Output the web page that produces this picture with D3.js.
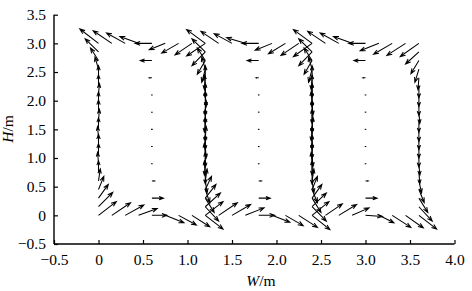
<!DOCTYPE html>
<html><head><meta charset="utf-8">
<script src="https://cdn.jsdelivr.net/npm/d3@7/dist/d3.min.js"></script>
<style>
html,body{margin:0;padding:0;background:#fff;}
svg{display:block;}
svg text{font-family:"Liberation Serif","Times New Roman",Times,serif !important;fill:#000;}
</style></head>
<body>
<svg id="c" width="472" height="291"></svg>
<script>
// ---- data: vectors [x, y, u, v] (m) ----
const xTicks = [-0.5, 0, 0.5, 1.0, 1.5, 2.0, 2.5, 3.0, 3.5, 4.0];
const xTickLabels = ["\u22120.5","0","0.5","1.0","1.5","2.0","2.5","3.0","3.5","4.0"];
const yTicks = [-0.5, 0, 0.5, 1.0, 1.5, 2.0, 2.5, 3.0, 3.5];
const yTickLabels = ["\u22120.5","0","0.5","1.0","1.5","2.0","2.5","3.0","3.5"];
const xLabel = ["W", "/m"];
const yLabel = ["H", "/m"];

const cell1Vectors = [
  // left column (upward)
  [0,0.00,0.20,0.24],[0,0.15,0.16,0.25],[0,0.30,0.11,0.24],[0,0.45,0.06,0.23],
  [0,0.60,0.02,0.21],[0,0.75,0.00,0.20],[0,0.90,-0.01,0.20],[0,1.05,0.00,0.20],
  [0,1.20,0.00,0.21],[0,1.35,-0.01,0.20],[0,1.50,0.00,0.20],[0,1.65,0.01,0.20],
  [0,1.80,0.00,0.21],[0,1.95,0.00,0.20],[0,2.10,0.01,0.20],[0,2.25,0.00,0.20],
  [0,2.40,0.00,0.21],[0,2.55,-0.04,0.21],[0,2.70,-0.09,0.22],[0,2.85,-0.15,0.23],
  [0,3.00,-0.21,0.25],
  // top row
  [0.15,3.0,-0.21,0.22],[0.30,3.0,-0.21,0.18],[0.45,3.0,-0.21,0.12],[0.60,3.0,-0.19,0.00],
  [0.75,3.0,-0.18,-0.11],[0.90,3.0,-0.19,-0.17],[1.05,3.0,-0.19,-0.20],
  // right column (downward)
  [1.2,3.00,-0.21,-0.22],[1.2,2.85,-0.15,-0.24],[1.2,2.70,-0.09,-0.24],[1.2,2.55,-0.04,-0.23],
  [1.2,2.40,-0.01,-0.21],[1.2,2.25,0.00,-0.20],[1.2,2.10,0.01,-0.20],[1.2,1.95,0.00,-0.21],
  [1.2,1.80,0.00,-0.20],[1.2,1.65,-0.01,-0.20],[1.2,1.50,0.00,-0.21],[1.2,1.35,0.00,-0.20],
  [1.2,1.20,0.01,-0.20],[1.2,1.05,0.00,-0.21],[1.2,0.90,-0.01,-0.20],[1.2,0.75,0.00,-0.20],
  [1.2,0.60,0.02,-0.21],[1.2,0.45,0.05,-0.23],[1.2,0.30,0.10,-0.25],[1.2,0.15,0.15,-0.25],
  [1.2,0.00,0.20,-0.24],
  // bottom row
  [0.15,0,0.21,0.22],[0.30,0,0.21,0.18],[0.45,0,0.21,0.12],[0.60,0,0.17,0.00],
  [0.75,0,0.21,-0.13],[0.90,0,0.20,-0.17],[1.05,0,0.20,-0.20],
  // centre column
  [0.6,2.7,-0.13,0.0],[0.6,2.4,-0.03,0.0],[0.6,2.1,0.01,0.0],[0.6,1.8,0.005,0.0],
  [0.6,1.5,-0.005,0.0],[0.6,1.2,0.005,0.0],[0.6,0.9,0.01,0.0],[0.6,0.6,0.03,0.0],
  [0.6,0.3,0.13,0.0]
];

const cell2Vectors = [
  [1.2,0.00,0.20,0.24],[1.2,0.15,0.17,0.24],[1.2,0.30,0.12,0.24],[1.2,0.45,0.07,0.23],
  [1.2,0.60,0.02,0.21],[1.2,0.75,-0.01,0.20],[1.2,0.90,0.00,0.20],[1.2,1.05,-0.01,0.21],
  [1.2,1.20,0.00,0.20],[1.2,1.35,0.01,0.20],[1.2,1.50,0.00,0.21],[1.2,1.65,0.00,0.20],
  [1.2,1.80,0.01,0.20],[1.2,1.95,0.00,0.21],[1.2,2.10,0.00,0.20],[1.2,2.25,-0.01,0.20],
  [1.2,2.40,0.00,0.21],[1.2,2.55,-0.04,0.21],[1.2,2.70,-0.09,0.22],[1.2,2.85,-0.15,0.23],
  [1.2,3.00,-0.21,0.24],
  [1.35,3.0,-0.20,0.21],[1.50,3.0,-0.20,0.17],[1.65,3.0,-0.21,0.10],[1.80,3.0,-0.19,0.00],
  [1.95,3.0,-0.19,-0.12],[2.10,3.0,-0.19,-0.18],[2.25,3.0,-0.20,-0.21],
  [2.4,3.00,-0.21,-0.23],[2.4,2.85,-0.15,-0.24],[2.4,2.70,-0.09,-0.24],[2.4,2.55,-0.04,-0.23],
  [2.4,2.40,-0.01,-0.21],[2.4,2.25,0.00,-0.20],[2.4,2.10,0.00,-0.21],[2.4,1.95,0.01,-0.20],
  [2.4,1.80,0.00,-0.20],[2.4,1.65,0.00,-0.21],[2.4,1.50,-0.01,-0.20],[2.4,1.35,0.00,-0.20],
  [2.4,1.20,0.00,-0.21],[2.4,1.05,0.01,-0.20],[2.4,0.90,0.00,-0.20],[2.4,0.75,0.00,-0.21],
  [2.4,0.60,0.02,-0.21],[2.4,0.45,0.06,-0.23],[2.4,0.30,0.10,-0.25],[2.4,0.15,0.16,-0.25],
  [2.4,0.00,0.20,-0.25],
  [1.35,0,0.21,0.22],[1.50,0,0.21,0.19],[1.65,0,0.21,0.13],[1.80,0,0.18,0.00],
  [1.95,0,0.20,-0.12],[2.10,0,0.20,-0.18],[2.25,0,0.21,-0.21],
  [1.8,2.7,-0.13,0.0],[1.8,2.4,-0.03,0.0],[1.8,2.1,0.005,0.0],[1.8,1.8,0.005,0.0],
  [1.8,1.5,-0.005,0.0],[1.8,1.2,0.005,0.0],[1.8,0.9,0.01,0.0],[1.8,0.6,0.03,0.0],
  [1.8,0.3,0.13,0.0]
];

const cell3Vectors = [
  [2.4,0.00,0.19,0.24],[2.4,0.15,0.16,0.24],[2.4,0.30,0.11,0.24],[2.4,0.45,0.06,0.23],
  [2.4,0.60,0.02,0.21],[2.4,0.75,0.00,0.20],[2.4,0.90,-0.01,0.20],[2.4,1.05,0.00,0.21],
  [2.4,1.20,0.00,0.20],[2.4,1.35,0.00,0.20],[2.4,1.50,0.01,0.21],[2.4,1.65,0.00,0.20],
  [2.4,1.80,0.00,0.20],[2.4,1.95,-0.01,0.21],[2.4,2.10,0.00,0.20],[2.4,2.25,0.00,0.20],
  [2.4,2.40,0.00,0.21],[2.4,2.55,-0.04,0.21],[2.4,2.70,-0.09,0.22],[2.4,2.85,-0.15,0.23],
  [2.4,3.00,-0.21,0.24],
  [2.55,3.0,-0.20,0.21],[2.70,3.0,-0.21,0.18],[2.85,3.0,-0.21,0.12],[3.00,3.0,-0.19,0.00],
  [3.15,3.0,-0.21,-0.13],[3.30,3.0,-0.21,-0.19],[3.45,3.0,-0.21,-0.21],
  [3.6,3.00,-0.21,-0.23],[3.6,2.85,-0.15,-0.21],[3.6,2.70,-0.09,-0.23],[3.6,2.55,-0.045,-0.23],
  [3.6,2.40,-0.01,-0.21],[3.6,2.25,0.00,-0.20],[3.6,2.10,0.00,-0.20],[3.6,1.95,0.00,-0.21],
  [3.6,1.80,0.01,-0.20],[3.6,1.65,0.00,-0.20],[3.6,1.50,0.00,-0.21],[3.6,1.35,0.00,-0.20],
  [3.6,1.20,0.00,-0.20],[3.6,1.05,0.00,-0.21],[3.6,0.90,0.01,-0.20],[3.6,0.75,0.01,-0.20],
  [3.6,0.60,0.03,-0.21],[3.6,0.45,0.06,-0.23],[3.6,0.30,0.10,-0.25],[3.6,0.15,0.15,-0.25],
  [3.6,0.00,0.20,-0.24],
  [2.55,0,0.19,0.20],[2.70,0,0.20,0.19],[2.85,0,0.19,0.13],[3.00,0,0.19,-0.02],
  [3.15,0,0.17,-0.13],[3.30,0,0.21,-0.21],[3.45,0,0.20,-0.22],
  [3.0,2.7,-0.13,0.0],[3.0,2.4,-0.03,0.0],[3.0,2.1,0.005,0.0],[3.0,1.8,0.005,0.0],
  [3.0,1.5,-0.005,0.0],[3.0,1.2,0.005,0.0],[3.0,0.9,0.01,0.0],[3.0,0.6,0.03,0.0],
  [3.0,0.3,0.13,0.0]
];

// ---- drawing ----
const FONT = '"Liberation Serif","Times New Roman",Times,serif';
const svg = d3.select("#c");
const x = d3.scaleLinear().domain([-0.5, 4.0]).range([54, 454.5]);
const y = d3.scaleLinear().domain([-0.5, 3.5]).range([244, 14.7]);

const allVectors = cell1Vectors.concat(cell2Vectors, cell3Vectors);

function arrowPath(d) {
  const x0 = x(d[0]), y0 = y(d[1]);
  const x1 = x(d[0] + d[2]), y1 = y(d[1] + d[3]);
  const len = Math.hypot(x1 - x0, y1 - y0);
  if (len < 2.2) {
    return `M${x0 - 0.8},${y0}L${x0 + 0.8},${y0}`;
  }
  const a = Math.atan2(y1 - y0, x1 - x0);
  const h = Math.min(5.5, len * 0.4), s = 0.36;
  const p1 = [x1 - h * Math.cos(a - s), y1 - h * Math.sin(a - s)];
  const p2 = [x1 - h * Math.cos(a + s), y1 - h * Math.sin(a + s)];
  return `M${x0},${y0}L${x1},${y1}M${p1[0]},${p1[1]}L${x1},${y1}L${p2[0]},${p2[1]}`;
}

svg.append("g").selectAll("path").data(allVectors).join("path")
  .attr("d", arrowPath)
  .attr("fill", "none").attr("stroke", "#000").attr("stroke-width", 1.05)
  .attr("stroke-linejoin", "miter");

// axes
const xAxis = d3.axisBottom(x).tickValues(xTicks).tickSize(-4)
  .tickFormat((d, i) => xTickLabels[i]).tickPadding(10);
const yAxis = d3.axisLeft(y).tickValues(yTicks).tickSize(-4)
  .tickFormat((d, i) => yTickLabels[i]).tickPadding(8);

const gx = svg.append("g").attr("transform", `translate(0,${y(-0.5)})`).call(xAxis);
const gy = svg.append("g").attr("transform", `translate(${x(-0.5)},0)`).call(yAxis);
[gx, gy].forEach(g => {
  g.attr("font-family", null).attr("font-size", null);
  g.select(".domain").attr("d", null);
  g.selectAll(".tick line").attr("stroke", "#000").attr("stroke-width", 1.2);
  g.selectAll("text").style("font-size", "15.5px").style("font-family", FONT);
});
// axis lines (left and bottom only)
svg.append("line").attr("x1", x(-0.5)).attr("x2", x(-0.5)).attr("y1", y(3.5)).attr("y2", y(-0.5))
  .attr("stroke", "#000").attr("stroke-width", 1.4);
svg.append("line").attr("x1", x(-0.5)).attr("x2", x(4.0)).attr("y1", y(-0.5)).attr("y2", y(-0.5))
  .attr("stroke", "#000").attr("stroke-width", 1.4);

// axis titles
const xt = svg.append("text").attr("x", 261).attr("y", 286).attr("text-anchor", "middle")
  .style("font-size", "15.5px").style("font-family", FONT);
xt.append("tspan").attr("font-style", "italic").text(xLabel[0]);
xt.append("tspan").text(xLabel[1]);
const yt = svg.append("text").attr("transform", `translate(13,129) rotate(-90)`)
  .attr("text-anchor", "middle").style("font-size", "15.5px").style("font-family", FONT);
yt.append("tspan").attr("font-style", "italic").text(yLabel[0]);
yt.append("tspan").text(yLabel[1]);
</script>
</body></html>
